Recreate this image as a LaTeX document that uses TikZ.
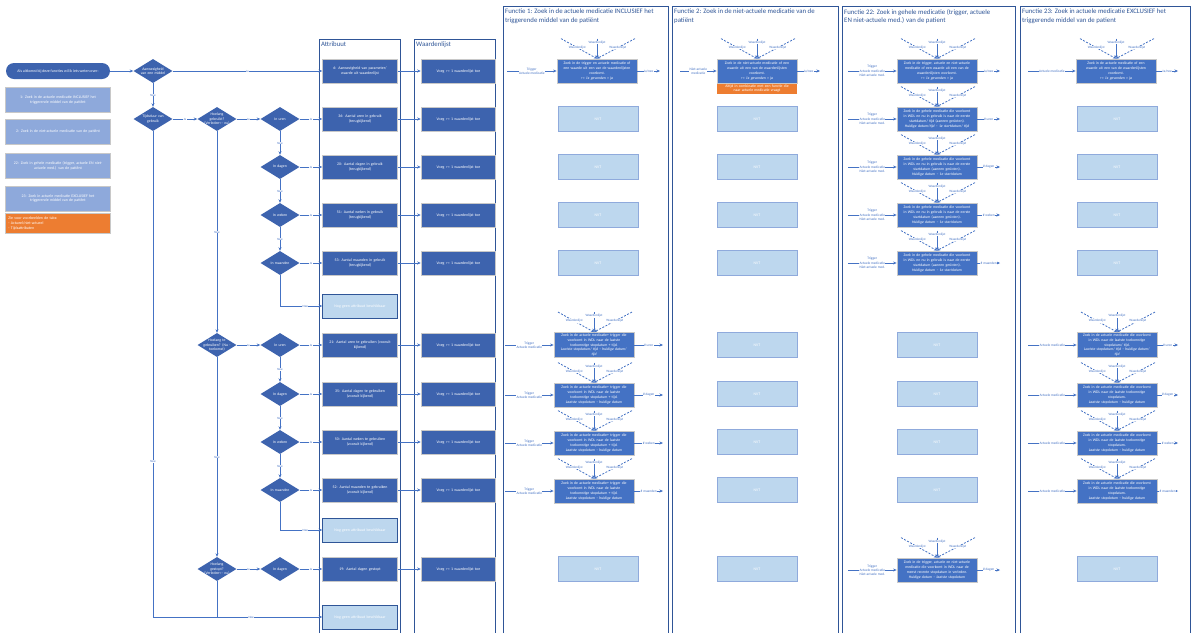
\documentclass[tikz,border=0pt]{standalone}
\usepackage{fontspec}
\setmainfont{Carlito}
\usepackage{tikz}
\usetikzlibrary{positioning, arrows.meta, calc, shapes.geometric}
\definecolor{boxblue}{RGB}{61,99,174}
\definecolor{funcblue}{RGB}{68,114,196}
\definecolor{lineblue}{RGB}{68,114,196}
\definecolor{framedark}{RGB}{47,85,151}
\definecolor{nvtblue}{RGB}{189,215,238}
\definecolor{legendblue}{RGB}{142,169,219}
\definecolor{edgegrey}{RGB}{200,200,200}
\definecolor{noteorange}{RGB}{237,125,49}

% waardenlijst-pijlen boven een functieblok
\newcommand{\wdlfan}[1]{%
  \coordinate (#1-wl) at ($(#1.north)+(-36,-20)$);
  \coordinate (#1-wm) at ($(#1.north)+(0,-20)$);
  \coordinate (#1-wr) at ($(#1.north)+(38,-20)$);
  \draw[wdl] (#1-wl) -- (#1.north) node[wdltxt, pos=0.45]{Waardenlijst};
  \draw[flow] (#1-wm) -- (#1.north) node[wdltxt, pos=0.2]{Waardenlijst};
  \draw[wdl] (#1-wr) -- (#1.north) node[wdltxt, pos=0.45]{Waardenlijst};
}
% invoer en uitkomst van een functieblok
\newcommand{\funcio}[5]{%
  \coordinate (#1-in) at (#2,0 |- #1.west);
  \coordinate (#1-out) at (#3,0 |- #1.east);
  \draw[flow] (#1-in) -- (#1) node[iolbl]{#4};
  \draw[flow] (#1) -- (#1-out) node[iolbl]{#5};
}

\begin{document}
\begin{tikzpicture}[x=1pt, y=-1pt,
    pill/.style={rectangle, rounded corners=8pt, fill=boxblue, text=white, minimum width=104pt, minimum height=16pt, align=center, font=\fontsize{3.9}{4.7}\selectfont},
    legend/.style={rectangle, fill=legendblue, draw=edgegrey, line width=0.8pt, text=white, text width=99pt, minimum height=25pt, align=center, font=\fontsize{3.9}{4.7}\selectfont},
    tabnote/.style={rectangle, fill=noteorange, draw=edgegrey, line width=0.8pt, text=white, text width=99pt, minimum height=19pt, align=left, font=\fontsize{3.9}{4.7}\selectfont},
    dia/.style={diamond, aspect=1.6, fill=boxblue, text=white, minimum width=39pt, minimum height=24pt, inner sep=-6pt, text width=40pt, align=center, font=\fontsize{3.8}{4.6}\selectfont},
    attr/.style={rectangle, fill=boxblue, draw=edgegrey, line width=0.8pt, text=white, minimum width=72pt, minimum height=24pt, text width=68pt, align=center, font=\fontsize{3.9}{4.7}\selectfont},
    nog/.style={attr, fill=nvtblue, draw=framedark},
    fbox/.style={rectangle, fill=funcblue, draw=edgegrey, line width=0.8pt, text=white, minimum width=80pt, minimum height=24pt, text width=78pt, inner xsep=1pt, inner ysep=1.5pt, align=center, font=\fontsize{3.8}{4.7}\selectfont},
    fnote/.style={rectangle, fill=noteorange, text=white, minimum width=80pt, text width=78pt, inner xsep=1pt, inner ysep=1pt, align=center, font=\fontsize{3.8}{4.7}\selectfont},
    nvt/.style={rectangle, fill=nvtblue, draw=lineblue!60, line width=0.6pt, text=white, minimum width=80pt, minimum height=25pt, font=\fontsize{3.9}{4.7}\selectfont},
    flow/.style={draw=lineblue, line width=1pt, -{Stealth[length=3.5pt, width=3pt]}},
    plainline/.style={draw=lineblue, line width=1pt},
    wdl/.style={draw=lineblue, line width=0.8pt, dash pattern=on 2pt off 1.5pt, -{Stealth[length=3pt, width=2.6pt]}},
    yn/.style={midway, fill=white, text=lineblue, inner sep=0.4pt, font=\fontsize{3.2}{3.8}\selectfont},
    iolbl/.style={midway, fill=white, text=lineblue, inner sep=0.4pt, align=center, font=\fontsize{3.5}{4.2}\selectfont},
    wdltxt/.style={fill=white, text=lineblue, inner sep=0.3pt, font=\fontsize{3.3}{3.9}\selectfont},
    frame/.style={draw=framedark, line width=1pt},
    coltitle/.style={anchor=north west, text=framedark, inner sep=1pt, align=left, font=\fontsize{6.8}{8.6}\selectfont},
  ]
  \useasboundingbox (0,0) rectangle (1192,633);
  \fill[white] (0,0) rectangle (1192,633);

  % kolommen
  \draw[frame] (319,633) |- (400,39) -- (400,633);
  \draw[frame] (414,633) |- (495,39) -- (495,633);
  \draw[frame] (503,633) |- (668,6) -- (668,633);
  \draw[frame] (672,633) |- (838,6) -- (838,633);
  \draw[frame] (842,633) |- (1015,6) -- (1015,633);
  \draw[frame] (1020,633) |- (1190,6) -- (1190,633);
  \node[coltitle] (t-attr) at (320,41) {Attribuut};
  \node[coltitle] (t-wdl) at (415,41) {Waardenlijst};
  \node[coltitle] (t-f1) at (504,8) {Functie 1: Zoek in de actuele medicatie INCLUSIEF het\\triggerende middel van de patiënt};
  \node[coltitle] (t-f2) at (673,8) {Functie 2: Zoek in de niet-actuele medicatie van de\\patiënt};
  \node[coltitle] (t-f22) at (843,8) {Functie 22: Zoek in gehele medicatie (trigger, actuele\\EN niet-actuele med.) van de patient};
  \node[coltitle] (t-f23) at (1021,8) {Functie 23: Zoek in actuele medicatie EXCLUSIEF het\\triggerende middel van de patient};

  % legenda
  \node[pill] (start) at (58,71) {Als uitkomst bij deze functies wil ik iets weten over:};
  \node[legend, below=8pt of start] (leg1) {1: Zoek in de actuele medicatie INCLUSIEF het\\triggerende middel van de patiënt};
  \node[legend, below=6pt of leg1] (leg2) {2: Zoek in de niet-actuele medicatie van de patiënt};
  \node[legend, below=8pt of leg2] (leg22) {22: Zoek in gehele medicatie (trigger, actuele EN niet-\\actuele med.) van de patiënt};
  \node[legend, below=7pt of leg22] (leg23) {23: Zoek in actuele medicatie EXCLUSIEF het\\triggerende middel van de patiënt};
  \node[tabnote, below=2pt of leg23] (tabs) {Zie voor voorbeelden de tabs:\\- Actueel/niet-actueel\\- Tijdsattributen};

  % beslisboom
  \node[dia] (aanw) at (153,71) {Aanwezigheid\\van een middel};
  \node[dia] (tijdsduur) at (153,119) {Tijdsduur van\\gebruik};
  \node[dia] (gebruikt) at (217,119) {Hoelang\\gebruikt?\\(Verleden<-- nu)};
  \node[dia] (uren1) at (280,119) {In uren};
  \node[dia] (dagen1) at (280,167) {In dagen};
  \node[dia] (weken1) at (280,215) {In weken};
  \node[dia] (maanden1) at (280,263) {In maanden};
  \node[dia] (tegebruiken) at (217,345) {Hoelang te\\gebruiken? (Nu -\\toekomst)};
  \node[dia] (uren2) at (280,345) {In uren};
  \node[dia] (dagen2) at (280,394) {In dagen};
  \node[dia] (weken2) at (280,442) {In weken};
  \node[dia] (maanden2) at (280,490) {In maanden};
  \node[dia] (gestopt) at (217,569) {Hoelang\\gestopt?\\(Verleden<-- nu)};
  \node[dia] (dagen3) at (280,569) {In dagen};

  % attributen
  \node[attr] (a6) at (360,71) {6: Aanwezigheid van parameter/\\waarde uit waardenlijst};
  \node[attr] (a36) at (360,119) {36: Aantal uren in gebruik\\(terugkijkend)};
  \node[attr] (a20) at (360,167) {20: Aantal dagen in gebruik\\(terugkijkend)};
  \node[attr] (a51) at (360,215) {51: Aantal weken in gebruik\\(terugkijkend)};
  \node[attr] (a53) at (360,263) {53: Aantal maanden in gebruik\\(terugkijkend)};
  \node[nog] (nog1) at (360,306) {Nog geen attribuut beschikbaar};
  \node[attr] (a21) at (360,345) {21: Aantal uren te gebruiken (vooruit\\kijkend)};
  \node[attr] (a35) at (360,394) {35: Aantal dagen te gebruiken\\(vooruit kijkend)};
  \node[attr] (a50) at (360,442) {50: Aantal weken te gebruiken\\(vooruit kijkend)};
  \node[attr] (a52) at (360,490) {52: Aantal maanden te gebruiken\\(vooruit kijkend)};
  \node[nog] (nog2) at (360,530) {Nog geen attribuut beschikbaar};
  \node[attr] (a19) at (360,569) {19: Aantal dagen gestopt};
  \node[nog] (nog3) at (360,617) {Nog geen attribuut beschikbaar};

  % waardenlijsten
  \node[attr, right=23pt of a6] (w6) {Voeg >= 1 waardenlijst toe};
  \node[attr, right=23pt of a36] (w36) {Voeg >= 1 waardenlijst toe};
  \node[attr, right=23pt of a20] (w20) {Voeg >= 1 waardenlijst toe};
  \node[attr, right=23pt of a51] (w51) {Voeg >= 1 waardenlijst toe};
  \node[attr, right=23pt of a53] (w53) {Voeg >= 1 waardenlijst toe};
  \node[attr, right=23pt of a21] (w21) {Voeg >= 1 waardenlijst toe};
  \node[attr, right=23pt of a35] (w35) {Voeg >= 1 waardenlijst toe};
  \node[attr, right=23pt of a50] (w50) {Voeg >= 1 waardenlijst toe};
  \node[attr, right=23pt of a52] (w52) {Voeg >= 1 waardenlijst toe};
  \node[attr, right=23pt of a19] (w19) {Voeg >= 1 waardenlijst toe};

  % verbindingen beslisboom
  \draw[flow] (start) -- (aanw);
  \draw[flow] (aanw) -- (a6) node[yn]{Ja};
  \draw[flow] (aanw) -- (tijdsduur) node[yn]{Nee};
  \draw[flow] (tijdsduur) -- (gebruikt) node[yn]{Ja};
  \draw[flow] (gebruikt) -- (uren1) node[yn]{Ja};
  \draw[flow] (uren1) -- (a36) node[yn]{Ja};
  \draw[flow] (dagen1) -- (a20) node[yn]{Ja};
  \draw[flow] (weken1) -- (a51) node[yn]{Ja};
  \draw[flow] (maanden1) -- (a53) node[yn]{Ja};
  \draw[flow] (uren1) -- (dagen1) node[yn]{Nee};
  \draw[flow] (dagen1) -- (weken1) node[yn]{Nee};
  \draw[flow] (weken1) -- (maanden1) node[yn]{Nee};
  \draw[flow] (maanden1) |- (nog1) node[yn, pos=0.8]{Nee};
  \draw[flow] (gebruikt) -- (tegebruiken) node[yn]{Nee};
  \draw[flow] (tegebruiken) -- (uren2) node[yn]{Ja};
  \draw[flow] (uren2) -- (a21) node[yn]{Ja};
  \draw[flow] (dagen2) -- (a35) node[yn]{Ja};
  \draw[flow] (weken2) -- (a50) node[yn]{Ja};
  \draw[flow] (maanden2) -- (a52) node[yn]{Ja};
  \draw[flow] (uren2) -- (dagen2) node[yn]{Nee};
  \draw[flow] (dagen2) -- (weken2) node[yn]{Nee};
  \draw[flow] (weken2) -- (maanden2) node[yn]{Nee};
  \draw[flow] (maanden2) |- (nog2) node[yn, pos=0.8]{Nee};
  \draw[flow] (tegebruiken) -- (gestopt) node[yn]{Nee};
  \draw[flow] (gestopt) -- (dagen3) node[yn]{Ja};
  \draw[flow] (dagen3) -- (a19) node[yn]{Ja};
  \draw[flow] (tijdsduur) |- (nog3) node[yn, pos=0.34]{Nee} node[yn, pos=0.79]{Nee};
  \coordinate (join) at (gestopt |- nog3);
  \draw[plainline] (gestopt) -- (join);

  % attribuut naar waardenlijst
  \draw[flow] (a6) -- (w6);
  \draw[flow] (a36) -- (w36);
  \draw[flow] (a20) -- (w20);
  \draw[flow] (a51) -- (w51);
  \draw[flow] (a53) -- (w53);
  \draw[flow] (a21) -- (w21);
  \draw[flow] (a35) -- (w35);
  \draw[flow] (a50) -- (w50);
  \draw[flow] (a52) -- (w52);
  \draw[flow] (a19) -- (w19);

  % functie 1
  \node[fbox] (f1ja) at (597,71) {Zoek in de trigger en actuele medicatie of\\een waarde uit een van de waardenlijsten\\voorkomt.\\\textit{>= 1x gevonden = ja}};
  \node[fbox] (f1u) at (594,345) {Zoek in de actuele medicatie+ trigger die\\voorkomt in WDL naar de laatste\\toekomstige stopdatum + tijd.\\\textit{Laatste stopdatum/ tijd – huidige datum/}\\\textit{tijd}};
  \node[fbox] (f1d) at (594,395) {Zoek in de actuele medicatie+ trigger die\\voorkomt in WDL naar de laatste\\toekomstige stopdatum + tijd.\\\textit{Laatste stopdatum – huidige datum}};
  \node[fbox] (f1w) at (594,443) {Zoek in de actuele medicatie+ trigger die\\voorkomt in WDL naar de laatste\\toekomstige stopdatum + tijd.\\\textit{Laatste stopdatum – huidige datum}};
  \node[fbox] (f1m) at (594,491) {Zoek in de actuele medicatie+ trigger die\\voorkomt in WDL naar de laatste\\toekomstige stopdatum + tijd.\\\textit{Laatste stopdatum – huidige datum}};
  \foreach \y in {119,167,215,263,569}
    \node[nvt] (f1n\y) at (598,\y) {NVT};
  \funcio{f1ja}{507}{660}{Trigger\\Actuele medicatie}{Ja/nee}
  \funcio{f1u}{505}{663}{Trigger\\Actuele medicatie}{\# uren}
  \funcio{f1d}{505}{663}{Trigger\\Actuele medicatie}{\# dagen}
  \funcio{f1w}{505}{663}{Trigger\\Actuele medicatie}{\# weken}
  \funcio{f1m}{505}{663}{Trigger\\Actuele medicatie}{\# maanden}
  \wdlfan{f1ja}
  \wdlfan{f1u}
  \wdlfan{f1d}
  \wdlfan{f1w}
  \wdlfan{f1m}

  % functie 2
  \node[fbox] (f2ja) at (757,71) {Zoek in de niet-actuele medicatie of een\\waarde uit een van de waardenlijsten\\voorkomt.\\\textit{>= 1x gevonden = ja}};
  \node[fnote, below=0pt of f2ja] (f2note) {Altijd in combinatie met een functie die\\naar actuele medicatie vraagt};
  \foreach \y in {119,167,215,263,345,394,442,490,569}
    \node[nvt] (f2n\y) at (757,\y) {NVT};
  \funcio{f2ja}{680}{820}{Niet-actuele\\medicatie}{Ja/nee}
  \wdlfan{f2ja}

  % functie 22
  \node[fbox] (g1) at (937,71) {Zoek in de trigger, actuele en niet-actuele\\medicatie of een waarde uit een van de\\waardenlijsten voorkomt.\\\textit{>= 1x gevonden = ja}};
  \node[fbox] (g2) at (937,119) {Zoek in de gehele medicatie die voorkomt\\in WDL en nu in gebruik is naar de eerste\\startdatum/ tijd (aaneen gesloten).\\\textit{Huidige datum/tijd – 1e startdatum/ tijd}};
  \node[fbox] (g3) at (937,167) {Zoek in de gehele medicatie die voorkomt\\in WDL en nu in gebruik is naar de eerste\\startdatum (aaneen gesloten).\\\textit{Huidige datum – 1e startdatum}};
  \node[fbox] (g4) at (937,215) {Zoek in de gehele medicatie die voorkomt\\in WDL en nu in gebruik is naar de eerste\\startdatum (aaneen gesloten).\\\textit{Huidige datum – 1e startdatum}};
  \node[fbox] (g5) at (937,263) {Zoek in de gehele medicatie die voorkomt\\in WDL en nu in gebruik is naar de eerste\\startdatum (aaneen gesloten).\\\textit{Huidige datum – 1e startdatum}};
  \node[fbox] (g10) at (937,570) {Zoek in de trigger, actuele en niet-actuele\\medicatie die voorkomt in WDL naar de\\meest recente stopdatum in verleden.\\\textit{Huidige datum – laatste stopdatum}};
  \foreach \y in {345,394,442,490}
    \node[nvt] (gn\y) at (937,\y) {NVT};
  \funcio{g1}{848}{1000}{Trigger\\Actuele medicatie\\Niet-actuele med.}{Ja/nee}
  \funcio{g2}{848}{1000}{Trigger\\Actuele medicatie\\Niet-actuele med.}{\# uren}
  \funcio{g3}{848}{1000}{Trigger\\Actuele medicatie\\Niet-actuele med.}{\# dagen}
  \funcio{g4}{848}{1000}{Trigger\\Actuele medicatie\\Niet-actuele med.}{\# weken}
  \funcio{g5}{848}{1000}{Trigger\\Actuele medicatie\\Niet-actuele med.}{\# maanden}
  \funcio{g10}{848}{1000}{Trigger\\Actuele medicatie\\Niet-actuele med.}{\# dagen}
  \wdlfan{g1}
  \wdlfan{g2}
  \wdlfan{g3}
  \wdlfan{g4}
  \wdlfan{g5}
  \wdlfan{g10}

  % functie 23
  \node[fbox] (h1) at (1116,71) {Zoek in de actuele medicatie of een\\waarde uit een van de waardenlijsten\\voorkomt.\\\textit{>= 1x gevonden = ja}};
  \node[fbox] (h6) at (1117,345) {Zoek in de actuele medicatie die voorkomt\\in WDL naar de laatste toekomstige\\stopdatum/ tijd.\\\textit{Laatste stopdatum/ tijd – huidige datum/}\\\textit{tijd}};
  \node[fbox] (h7) at (1117,395) {Zoek in de actuele medicatie die voorkomt\\in WDL naar de laatste toekomstige\\stopdatum.\\\textit{Laatste stopdatum – huidige datum}};
  \node[fbox] (h8) at (1117,443) {Zoek in de actuele medicatie die voorkomt\\in WDL naar de laatste toekomstige\\stopdatum.\\\textit{Laatste stopdatum – huidige datum}};
  \node[fbox] (h9) at (1117,491) {Zoek in de actuele medicatie die voorkomt\\in WDL naar de laatste toekomstige\\stopdatum.\\\textit{Laatste stopdatum – huidige datum}};
  \foreach \y in {119,167,215,263,569}
    \node[nvt] (hn\y) at (1117,\y) {NVT};
  \funcio{h1}{1028}{1178}{Actuele medicatie}{Ja/nee}
  \funcio{h6}{1028}{1178}{Actuele medicatie}{\# uren}
  \funcio{h7}{1028}{1178}{Actuele medicatie}{\# dagen}
  \funcio{h8}{1028}{1178}{Actuele medicatie}{\# weken}
  \funcio{h9}{1028}{1178}{Actuele medicatie}{\# maanden}
  \wdlfan{h1}
  \wdlfan{h6}
  \wdlfan{h7}
  \wdlfan{h8}
  \wdlfan{h9}
\end{tikzpicture}
\end{document}
